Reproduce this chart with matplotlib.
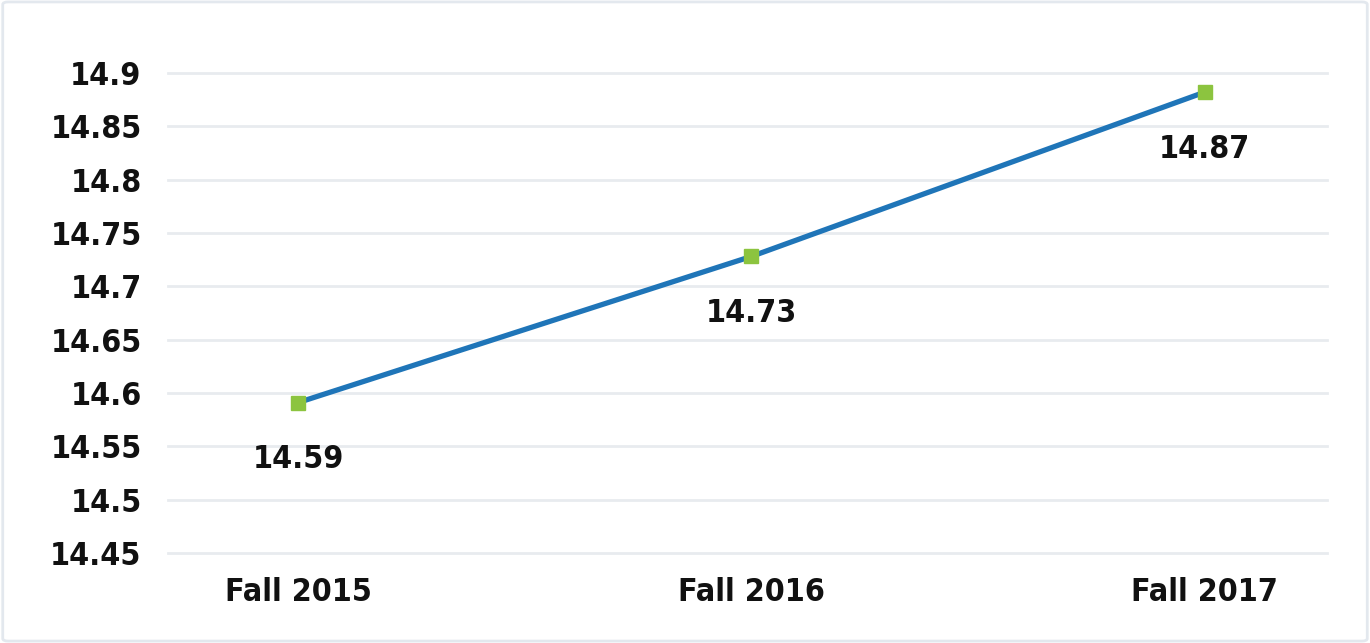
import matplotlib.pyplot as plt
from matplotlib.patches import FancyBboxPatch

# data
categories = ["Fall 2015", "Fall 2016", "Fall 2017"]
values = [14.591, 14.728, 14.882]
value_labels = ["14.59", "14.73", "14.87"]
y_ticks = [14.45, 14.5, 14.55, 14.6, 14.65, 14.7, 14.75, 14.8, 14.85, 14.9]

plt.rcParams['font.family'] = ['DejaVu Sans']
plt.rcParams['font.weight'] = 'bold'
plt.rcParams['font.stretch'] = 'condensed'

fig = plt.figure(figsize=(13.7, 6.43), dpi=100)
fig.patch.set_facecolor("white")

# light border round the chart
border = FancyBboxPatch((0.002, 0.003), 0.996, 0.994, boxstyle="round,pad=0,rounding_size=0.004",
                        transform=fig.transFigure, facecolor="none", edgecolor="#E3E8EE", linewidth=2)
fig.patches.append(border)

ax = fig.add_axes([0.1226, 0.14, 0.846, 0.7465])
x = list(range(len(categories)))
ax.plot(x, values, color="#1F75B8", linewidth=3.8, marker="s", markersize=10,
        markerfacecolor="#8CC43F", markeredgecolor="#8CC43F", clip_on=False, zorder=3)

for xi, v, lab in zip(x, values, value_labels):
    ax.annotate(lab, (xi, v), xytext=(0, -41), textcoords="offset points",
                ha="center", va="center", fontsize=23, fontweight="bold", color="#111111")

ax.set_xlim(-0.287, 2.27)
ax.set_ylim(14.45, 14.9)
ax.set_yticks(y_ticks)
ax.set_yticklabels([f"{t:g}" for t in y_ticks])
ax.set_xticks(x)
ax.set_xticklabels(categories)
ax.tick_params(axis="both", length=0, labelsize=23, colors="#111111")
ax.tick_params(axis="y", pad=19)
ax.tick_params(axis="x", pad=17)
for lab in ax.get_xticklabels() + ax.get_yticklabels():
    lab.set_fontweight("bold")

ax.grid(axis="y", color="#E8EBEF", linewidth=2)
for gl in ax.get_ygridlines():
    gl.set_clip_on(False)
ax.set_axisbelow(True)
for s in ax.spines.values():
    s.set_visible(False)

fig.savefig("out.png", dpi=100)
